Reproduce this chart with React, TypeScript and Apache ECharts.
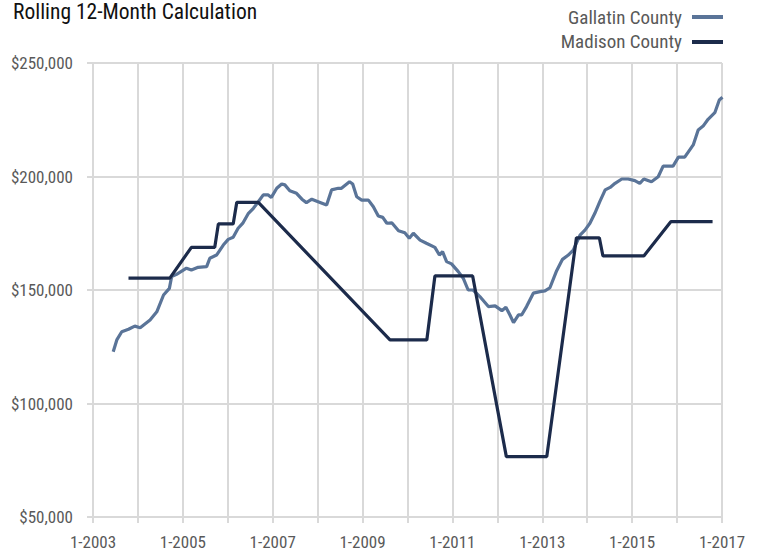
import React, { useEffect, useRef } from "react";
import * as echarts from "echarts";

const gallatinDates = [
  2003.45, 2003.53, 2003.64, 2003.79, 2003.93, 2004.05, 2004.27, 2004.42, 2004.57, 2004.7,
  2004.75, 2004.86, 2005.08, 2005.19, 2005.34, 2005.53, 2005.6, 2005.75, 2005.9, 2006.01,
  2006.12, 2006.23, 2006.34, 2006.46, 2006.57, 2006.68, 2006.79, 2006.9, 2006.97, 2007.09,
  2007.2, 2007.27, 2007.38, 2007.53, 2007.65, 2007.75, 2007.87, 2008.01, 2008.2, 2008.31,
  2008.46, 2008.53, 2008.71, 2008.78, 2008.87, 2008.98, 2009.13, 2009.24, 2009.35, 2009.45,
  2009.54, 2009.65, 2009.8, 2009.94, 2010.04, 2010.13, 2010.28, 2010.42, 2010.61, 2010.71,
  2010.78, 2010.87, 2010.98, 2011.13, 2011.24, 2011.35, 2011.46, 2011.61, 2011.8, 2011.95,
  2012.1, 2012.19, 2012.28, 2012.36, 2012.47, 2012.54, 2012.65, 2012.8, 2012.95, 2013.06,
  2013.17, 2013.32, 2013.45, 2013.58, 2013.69, 2013.84, 2013.95, 2014.06, 2014.17, 2014.28,
  2014.4, 2014.51, 2014.62, 2014.77, 2014.91, 2015.06, 2015.17, 2015.26, 2015.43, 2015.58,
  2015.69, 2015.91, 2016.03, 2016.17, 2016.36, 2016.47, 2016.58, 2016.69, 2016.84, 2016.94,
  2017.01,
];
const gallatinValues = [
  122800, 128000, 131600, 132700, 134100, 133400, 136800, 140400, 147800, 150700,
  155900, 156900, 159600, 158800, 160000, 160300, 164000, 165400, 169800, 172300,
  173200, 177200, 179600, 183800, 186000, 188900, 191900, 191900, 190800, 194800,
  196700, 196300, 193700, 192600, 190000, 188500, 190000, 188900, 187400, 194100,
  194800, 194800, 197700, 196700, 191100, 189600, 189600, 186700, 182600, 182000,
  179400, 179600, 176100, 175200, 172800, 175000, 172000, 170600, 168800, 165400,
  166900, 162500, 161500, 158100, 155200, 150000, 150000, 147100, 142700, 143000,
  140900, 142400, 139000, 135600, 139000, 139000, 142700, 148600, 149300, 149600,
  151000, 158500, 163500, 165400, 167600, 174200, 176400, 179400, 183800, 188900,
  194100, 195200, 197000, 198900, 198900, 198200, 197000, 198900, 197700, 199900,
  204600, 204600, 208500, 208500, 213900, 220500, 222200, 225200, 228100, 233700,
  234900,
];

const madisonDates = [
  2003.79, 2004.71, 2005.19, 2005.71, 2005.79, 2006.12, 2006.2, 2006.68, 2009.61, 2010.43,
  2010.61, 2011.45, 2012.2, 2013.1, 2013.76, 2014.27, 2014.35, 2015.26, 2015.86, 2016.79,
];
const madisonValues = [
  155200, 155200, 168800, 168800, 179100, 179100, 188600, 188600, 128000, 128000,
  156200, 156200, 76600, 76600, 173000, 173000, 165000, 165000, 180100, 180100,
];

const seriesNames = ["Gallatin County", "Madison County"];
const seriesColors = ["#5a7498", "#1c2b4b"];
const titleText = "Rolling 12-Month Calculation";

const FONT = "'Liberation Sans Narrow', 'Roboto Condensed', 'DejaVu Sans Condensed', Roboto, sans-serif";

export default function App() {
  const ref = useRef<HTMLDivElement>(null);
  useEffect(() => {
    if (!ref.current) return;
    const chart = echarts.init(ref.current, undefined, { renderer: "svg" });
    const gData = gallatinDates.map((d, i) => [d, gallatinValues[i]]);
    const mData = madisonDates.map((d, i) => [d, madisonValues[i]]);
    chart.setOption({
      animation: false,
      backgroundColor: "#ffffff",
      textStyle: { fontFamily: FONT },
      grid: { left: 93, right: 36, top: 63, bottom: 33, containLabel: false },
      xAxis: {
        type: "value",
        min: 2003,
        max: 2017,
        interval: 1,
        axisLine: { show: true, lineStyle: { color: "#d9d9d9", width: 2 } },
        axisTick: { show: true, length: 6, lineStyle: { color: "#d9d9d9", width: 2 } },
        splitLine: { show: true, lineStyle: { color: "#d9d9d9", width: 2 } },
        axisLabel: {
          color: "#595959",
          fontSize: 17,
          fontFamily: FONT,
          margin: 16,
          showMinLabel: true,
          showMaxLabel: true,
          formatter: (v: number) => ((Math.round(v) - 2003) % 2 === 0 ? "1-" + Math.round(v) : ""),
        },
      },
      yAxis: {
        type: "value",
        min: 50000,
        max: 250000,
        interval: 50000,
        axisLine: { show: false },
        axisTick: { show: true, length: 6, lineStyle: { color: "#d9d9d9", width: 2 } },
        splitLine: { show: true, lineStyle: { color: "#d9d9d9", width: 2 } },
        axisLabel: {
          color: "#595959",
          fontSize: 17,
          fontFamily: FONT,
          margin: 20,
          formatter: (v: number) => "$" + v.toLocaleString("en-US"),
        },
      },
      graphic: [
        {
          type: "text",
          left: 13,
          top: 0,
          style: { text: titleText, fill: "#111111", font: `21.5px ${FONT}` },
        },
        {
          type: "text",
          x: 682,
          y: 17,
          style: { text: seriesNames[0], fill: "#595959", font: `19px ${FONT}`, textAlign: "right", textVerticalAlign: "middle" },
        },
        { type: "rect", shape: { x: 692, y: 15, width: 31, height: 4 }, style: { fill: seriesColors[0] } },
        {
          type: "text",
          x: 682,
          y: 41,
          style: { text: seriesNames[1], fill: "#595959", font: `19px ${FONT}`, textAlign: "right", textVerticalAlign: "middle" },
        },
        { type: "rect", shape: { x: 692, y: 40, width: 31, height: 4 }, style: { fill: seriesColors[1] } },
      ],
      series: [
        {
          name: seriesNames[0],
          type: "line",
          data: gData,
          showSymbol: false,
          symbol: "none",
          lineStyle: { color: seriesColors[0], width: 3.2 },
          itemStyle: { color: seriesColors[0] },
          z: 2,
        },
        {
          name: seriesNames[1],
          type: "line",
          data: mData,
          showSymbol: false,
          symbol: "none",
          lineStyle: { color: seriesColors[1], width: 3.2 },
          itemStyle: { color: seriesColors[1] },
          z: 3,
        },
      ],
    });
    return () => chart.dispose();
  }, []);
  return <div ref={ref} style={{ width: 758, height: 550, position: "absolute", left: 0, top: 0 }} />;
}
